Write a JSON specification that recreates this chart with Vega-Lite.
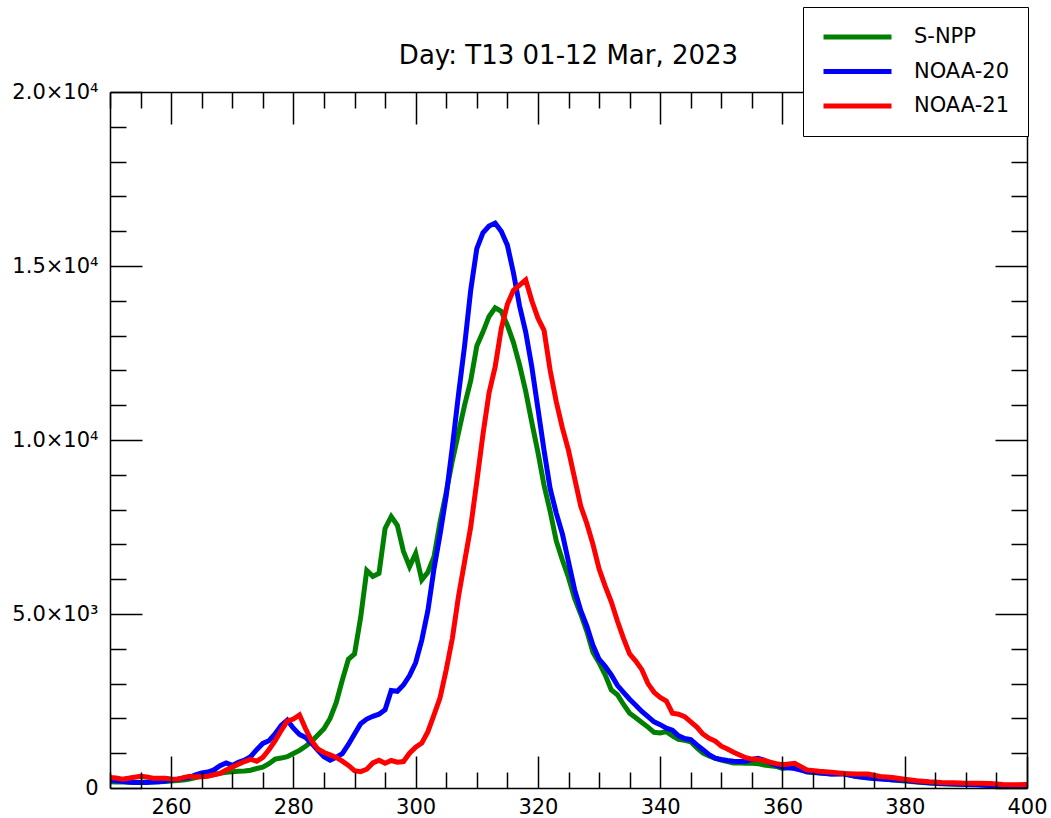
{
"$schema": "https://vega.github.io/schema/vega-lite/v6.json",
"width": 917, "height": 696,
"autosize": {"type": "none"},
"padding": {"left": 110, "top": 92, "right": 24, "bottom": 30},
"background": "white",
"config": {"font": "DejaVu Sans", "view": {"stroke": null}},
"title": {"text": "Day: T13 01-12 Mar, 2023", "fontSize": 26, "fontWeight": "normal", "font": "DejaVu Sans", "color": "black", "anchor": "middle", "frame": "group", "baseline": "alphabetic", "offset": 26, "dy": 109},
"datasets": {
"g": [{"x":250,"y":180},{"x":251,"y":175},{"x":252,"y":170},{"x":253,"y":165},{"x":254,"y":160},{"x":255,"y":165},{"x":256,"y":170},{"x":257,"y":175},{"x":258,"y":180},{"x":259,"y":190},{"x":260,"y":200},{"x":261,"y":215},{"x":262,"y":230},{"x":263,"y":260},{"x":264,"y":300},{"x":265,"y":340},{"x":266,"y":360},{"x":267,"y":390},{"x":268,"y":420},{"x":269,"y":450},{"x":270,"y":468},{"x":271,"y":480},{"x":272,"y":490},{"x":273,"y":510},{"x":274,"y":560},{"x":275,"y":600},{"x":276,"y":700},{"x":277,"y":830},{"x":278,"y":860},{"x":279,"y":900},{"x":280,"y":990},{"x":281,"y":1080},{"x":282,"y":1200},{"x":283,"y":1340},{"x":284,"y":1520},{"x":285,"y":1700},{"x":286,"y":2000},{"x":287,"y":2450},{"x":288,"y":3100},{"x":289,"y":3700},{"x":290,"y":3850},{"x":291,"y":4900},{"x":292,"y":6250},{"x":293,"y":6080},{"x":294,"y":6170},{"x":295,"y":7460},{"x":296,"y":7800},{"x":297,"y":7550},{"x":298,"y":6800},{"x":299,"y":6360},{"x":300,"y":6740},{"x":301,"y":5980},{"x":302,"y":6200},{"x":303,"y":6650},{"x":304,"y":7650},{"x":305,"y":8500},{"x":306,"y":9400},{"x":307,"y":10200},{"x":308,"y":11000},{"x":309,"y":11700},{"x":310,"y":12700},{"x":311,"y":13100},{"x":312,"y":13550},{"x":313,"y":13800},{"x":314,"y":13700},{"x":315,"y":13300},{"x":316,"y":12800},{"x":317,"y":12150},{"x":318,"y":11400},{"x":319,"y":10500},{"x":320,"y":9650},{"x":321,"y":8700},{"x":322,"y":7950},{"x":323,"y":7100},{"x":324,"y":6550},{"x":325,"y":6050},{"x":326,"y":5450},{"x":327,"y":5000},{"x":328,"y":4500},{"x":329,"y":3900},{"x":330,"y":3600},{"x":331,"y":3250},{"x":332,"y":2820},{"x":333,"y":2680},{"x":334,"y":2400},{"x":335,"y":2150},{"x":336,"y":2020},{"x":337,"y":1880},{"x":338,"y":1750},{"x":339,"y":1600},{"x":340,"y":1580},{"x":341,"y":1620},{"x":342,"y":1500},{"x":343,"y":1400},{"x":344,"y":1370},{"x":345,"y":1330},{"x":346,"y":1150},{"x":347,"y":1000},{"x":348,"y":920},{"x":349,"y":850},{"x":350,"y":800},{"x":351,"y":760},{"x":352,"y":720},{"x":353,"y":720},{"x":354,"y":710},{"x":355,"y":710},{"x":356,"y":700},{"x":357,"y":660},{"x":358,"y":640},{"x":359,"y":620},{"x":360,"y":560},{"x":362,"y":600},{"x":364,"y":460},{"x":366,"y":430},{"x":368,"y":400},{"x":370,"y":420},{"x":372,"y":330},{"x":374,"y":300},{"x":376,"y":270},{"x":378,"y":230},{"x":380,"y":200},{"x":382,"y":170},{"x":384,"y":140},{"x":386,"y":120},{"x":388,"y":110},{"x":390,"y":100},{"x":392,"y":90},{"x":394,"y":80},{"x":396,"y":70},{"x":398,"y":60},{"x":400,"y":70}],
"b": [{"x":250,"y":230},{"x":251,"y":210},{"x":252,"y":190},{"x":253,"y":170},{"x":254,"y":160},{"x":255,"y":155},{"x":256,"y":160},{"x":257,"y":170},{"x":258,"y":180},{"x":259,"y":200},{"x":260,"y":230},{"x":261,"y":250},{"x":262,"y":280},{"x":263,"y":310},{"x":264,"y":380},{"x":265,"y":430},{"x":266,"y":460},{"x":267,"y":520},{"x":268,"y":640},{"x":269,"y":720},{"x":270,"y":650},{"x":271,"y":740},{"x":272,"y":800},{"x":273,"y":900},{"x":274,"y":1100},{"x":275,"y":1280},{"x":276,"y":1360},{"x":277,"y":1550},{"x":278,"y":1800},{"x":279,"y":1950},{"x":280,"y":1720},{"x":281,"y":1540},{"x":282,"y":1450},{"x":283,"y":1280},{"x":284,"y":1080},{"x":285,"y":900},{"x":286,"y":800},{"x":287,"y":880},{"x":288,"y":990},{"x":289,"y":1250},{"x":290,"y":1550},{"x":291,"y":1850},{"x":292,"y":1980},{"x":293,"y":2060},{"x":294,"y":2120},{"x":295,"y":2250},{"x":296,"y":2800},{"x":297,"y":2780},{"x":298,"y":2960},{"x":299,"y":3230},{"x":300,"y":3600},{"x":301,"y":4250},{"x":302,"y":5100},{"x":303,"y":6300},{"x":304,"y":7300},{"x":305,"y":8400},{"x":306,"y":9800},{"x":307,"y":11300},{"x":308,"y":12700},{"x":309,"y":14300},{"x":310,"y":15500},{"x":311,"y":15950},{"x":312,"y":16150},{"x":313,"y":16230},{"x":314,"y":16000},{"x":315,"y":15600},{"x":316,"y":14800},{"x":317,"y":13850},{"x":318,"y":13100},{"x":319,"y":12100},{"x":320,"y":10900},{"x":321,"y":9700},{"x":322,"y":8600},{"x":323,"y":7900},{"x":324,"y":7300},{"x":325,"y":6500},{"x":326,"y":5700},{"x":327,"y":5100},{"x":328,"y":4650},{"x":329,"y":4100},{"x":330,"y":3700},{"x":331,"y":3500},{"x":332,"y":3250},{"x":333,"y":2950},{"x":334,"y":2750},{"x":335,"y":2550},{"x":336,"y":2380},{"x":337,"y":2200},{"x":338,"y":2050},{"x":339,"y":1900},{"x":340,"y":1820},{"x":341,"y":1720},{"x":342,"y":1660},{"x":343,"y":1500},{"x":344,"y":1420},{"x":345,"y":1390},{"x":346,"y":1240},{"x":347,"y":1100},{"x":348,"y":960},{"x":349,"y":860},{"x":350,"y":820},{"x":351,"y":790},{"x":352,"y":770},{"x":353,"y":760},{"x":354,"y":770},{"x":355,"y":820},{"x":356,"y":850},{"x":357,"y":800},{"x":358,"y":720},{"x":359,"y":650},{"x":360,"y":600},{"x":362,"y":560},{"x":364,"y":470},{"x":366,"y":440},{"x":368,"y":400},{"x":370,"y":400},{"x":372,"y":340},{"x":374,"y":290},{"x":376,"y":260},{"x":378,"y":240},{"x":380,"y":220},{"x":382,"y":180},{"x":384,"y":150},{"x":386,"y":130},{"x":388,"y":120},{"x":390,"y":100},{"x":392,"y":90},{"x":394,"y":70},{"x":396,"y":70},{"x":398,"y":60},{"x":400,"y":60}],
"r": [{"x":250,"y":300},{"x":251,"y":290},{"x":252,"y":250},{"x":253,"y":280},{"x":254,"y":310},{"x":255,"y":340},{"x":256,"y":320},{"x":257,"y":280},{"x":258,"y":280},{"x":259,"y":280},{"x":260,"y":260},{"x":261,"y":250},{"x":262,"y":300},{"x":263,"y":340},{"x":264,"y":320},{"x":265,"y":320},{"x":266,"y":340},{"x":267,"y":380},{"x":268,"y":420},{"x":269,"y":520},{"x":270,"y":600},{"x":271,"y":680},{"x":272,"y":760},{"x":273,"y":820},{"x":274,"y":770},{"x":275,"y":880},{"x":276,"y":1100},{"x":277,"y":1350},{"x":278,"y":1650},{"x":279,"y":1920},{"x":280,"y":1980},{"x":281,"y":2100},{"x":282,"y":1700},{"x":283,"y":1350},{"x":284,"y":1120},{"x":285,"y":1020},{"x":286,"y":950},{"x":287,"y":880},{"x":288,"y":770},{"x":289,"y":650},{"x":290,"y":500},{"x":291,"y":470},{"x":292,"y":540},{"x":293,"y":720},{"x":294,"y":800},{"x":295,"y":710},{"x":296,"y":790},{"x":297,"y":740},{"x":298,"y":760},{"x":299,"y":1000},{"x":300,"y":1170},{"x":301,"y":1290},{"x":302,"y":1620},{"x":303,"y":2100},{"x":304,"y":2600},{"x":305,"y":3400},{"x":306,"y":4300},{"x":307,"y":5500},{"x":308,"y":6500},{"x":309,"y":7500},{"x":310,"y":8800},{"x":311,"y":10150},{"x":312,"y":11350},{"x":313,"y":12100},{"x":314,"y":13200},{"x":315,"y":13900},{"x":316,"y":14300},{"x":317,"y":14450},{"x":318,"y":14600},{"x":319,"y":14000},{"x":320,"y":13500},{"x":321,"y":13150},{"x":322,"y":12000},{"x":323,"y":11100},{"x":324,"y":10350},{"x":325,"y":9700},{"x":326,"y":8900},{"x":327,"y":8100},{"x":328,"y":7600},{"x":329,"y":7000},{"x":330,"y":6300},{"x":331,"y":5800},{"x":332,"y":5350},{"x":333,"y":4800},{"x":334,"y":4300},{"x":335,"y":3850},{"x":336,"y":3650},{"x":337,"y":3400},{"x":338,"y":3000},{"x":339,"y":2750},{"x":340,"y":2600},{"x":341,"y":2500},{"x":342,"y":2150},{"x":343,"y":2120},{"x":344,"y":2050},{"x":345,"y":1900},{"x":346,"y":1750},{"x":347,"y":1550},{"x":348,"y":1430},{"x":349,"y":1350},{"x":350,"y":1200},{"x":351,"y":1120},{"x":352,"y":1030},{"x":353,"y":950},{"x":354,"y":870},{"x":355,"y":830},{"x":356,"y":820},{"x":357,"y":790},{"x":358,"y":740},{"x":359,"y":700},{"x":360,"y":670},{"x":362,"y":710},{"x":364,"y":520},{"x":366,"y":480},{"x":368,"y":450},{"x":370,"y":420},{"x":372,"y":400},{"x":374,"y":400},{"x":376,"y":330},{"x":378,"y":300},{"x":380,"y":250},{"x":382,"y":210},{"x":384,"y":180},{"x":386,"y":160},{"x":388,"y":150},{"x":390,"y":140},{"x":392,"y":135},{"x":394,"y":130},{"x":396,"y":100},{"x":398,"y":90},{"x":400,"y":100}]
},
"layer": [
  {"data": {"name": "g"}, "mark": {"type": "line", "strokeWidth": 5, "strokeJoin": "miter", "clip": true},
   "encoding": {
     "x": {"field": "x", "type": "quantitative", "scale": {"domain": [250, 400], "nice": false, "zero": false},
       "axis": {"orient": "bottom", "values": [250,255,260,265,270,275,280,285,290,295,300,305,310,315,320,325,330,335,340,345,350,355,360,365,370,375,380,385,390,395,400],
         "tickSize": {"condition": {"test": "datum.value % 20 === 0", "value": -32}, "value": -16},
         "labelExpr": "datum.value % 20 === 0 ? datum.label : ''",
         "labelPadding": 40, "labelFontSize": 21, "labelFont": "DejaVu Sans", "labelColor": "black", "labelFlush": false, "labelOverlap": false,
         "tickColor": "black", "tickWidth": 1.5, "domainColor": "black", "domainWidth": 1.5, "grid": false, "title": null, "zindex": 1}},
     "y": {"field": "y", "type": "quantitative", "scale": {"domain": [0, 20000], "nice": false, "zero": true},
       "axis": {"orient": "left", "values": [0,1000,2000,3000,4000,5000,6000,7000,8000,9000,10000,11000,12000,13000,14000,15000,16000,17000,18000,19000,20000],
         "tickSize": {"condition": {"test": "datum.value % 5000 === 0", "value": -32}, "value": -16},
         "labelExpr": "datum.value === 0 ? '0' : datum.value === 5000 ? '5.0×10³' : datum.value === 10000 ? '1.0×10⁴' : datum.value === 15000 ? '1.5×10⁴' : datum.value === 20000 ? '2.0×10⁴' : ''",
         "labelPadding": 44, "labelFontSize": 21, "labelFont": "DejaVu Sans", "labelColor": "black", "labelFlush": false, "labelOverlap": false,
         "tickColor": "black", "tickWidth": 1.5, "domainColor": "black", "domainWidth": 1.5, "grid": false, "title": null, "zindex": 1}},
     "color": {"datum": "S-NPP", "type": "nominal",
       "scale": {"domain": ["S-NPP", "NOAA-20", "NOAA-21"], "range": ["#008000", "#0000ff", "#ff0000"]},
       "legend": {"orient": "none", "legendX": 693, "legendY": -85, "title": null, "symbolType": "stroke", "symbolSize": 4624, "symbolStrokeWidth": 5, "clipHeight": 24, "labelFontSize": 21, "labelFont": "DejaVu Sans", "labelColor": "black", "labelOffset": 20, "rowPadding": 10.5, "padding": 18, "strokeColor": "black", "fillColor": "white", "zindex": 2, "labelLimit": 0}}
   }},
  {"data": {"name": "b"}, "mark": {"type": "line", "strokeWidth": 5, "strokeJoin": "miter", "clip": true},
   "encoding": {
     "x": {"field": "x", "type": "quantitative", "scale": {"domain": [250, 400], "nice": false, "zero": false}, "axis": null},
     "y": {"field": "y", "type": "quantitative", "scale": {"domain": [0, 20000], "nice": false, "zero": true}, "axis": null},
     "color": {"datum": "NOAA-20", "type": "nominal"}}},
  {"data": {"name": "r"}, "mark": {"type": "line", "strokeWidth": 5, "strokeJoin": "miter", "clip": true},
   "encoding": {
     "x": {"field": "x", "type": "quantitative", "scale": {"domain": [250, 400], "nice": false, "zero": false}, "axis": null},
     "y": {"field": "y", "type": "quantitative", "scale": {"domain": [0, 20000], "nice": false, "zero": true}, "axis": null},
     "color": {"datum": "NOAA-21", "type": "nominal"}}},
  {"data": {"name": "r"}, "mark": {"type": "line", "opacity": 0},
   "encoding": {
     "x": {"field": "x", "type": "quantitative", "scale": {"domain": [250, 400], "nice": false, "zero": false},
       "axis": {"orient": "top", "values": [250,255,260,265,270,275,280,285,290,295,300,305,310,315,320,325,330,335,340,345,350,355,360,365,370,375,380,385,390,395,400],
         "tickSize": {"condition": {"test": "datum.value % 20 === 0", "value": -32}, "value": -16},
         "labels": false, "tickColor": "black", "tickWidth": 1.5, "domainColor": "black", "domainWidth": 1.5, "grid": false, "title": null, "zindex": 1}},
     "y": {"field": "y", "type": "quantitative", "scale": {"domain": [0, 20000], "nice": false, "zero": true},
       "axis": {"orient": "right", "values": [0,1000,2000,3000,4000,5000,6000,7000,8000,9000,10000,11000,12000,13000,14000,15000,16000,17000,18000,19000,20000],
         "tickSize": {"condition": {"test": "datum.value % 5000 === 0", "value": -32}, "value": -16},
         "labels": false, "tickColor": "black", "tickWidth": 1.5, "domainColor": "black", "domainWidth": 1.5, "grid": false, "title": null, "zindex": 1}}
   }}
],
"resolve": {"axis": {"x": "independent", "y": "independent"}}
}
